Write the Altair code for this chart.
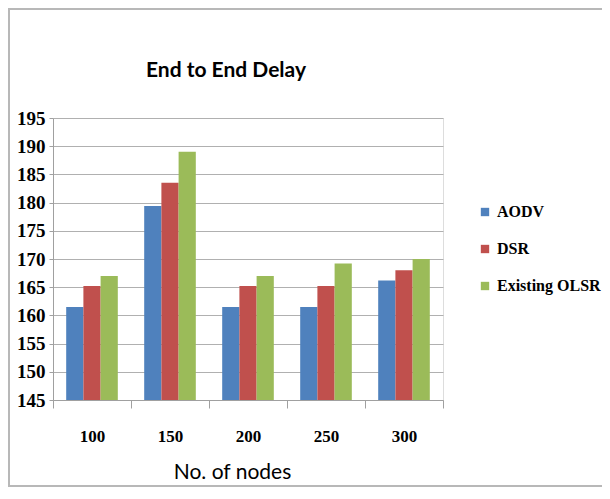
import altair as alt
import pandas as pd

nodes = ["100", "150", "200", "250", "300"]
aodv = [161.5, 179.4, 161.5, 161.5, 166.2]
dsr = [165.2, 183.5, 165.2, 165.2, 168.0]
olsr = [167.0, 189.0, 167.0, 169.2, 170.0]
series = ["AODV", "DSR", "Existing OLSR"]
colors = ["#4F81BD", "#C0504D", "#9BBB59"]
y_min, y_max = 145, 195

rows = []
for name, vals in zip(series, [aodv, dsr, olsr]):
    for n, v in zip(nodes, vals):
        rows.append({"nodes": n, "protocol": name, "delay": v})
df = pd.DataFrame(rows)

W, H = 390, 282
PL, PT, PR, PB = 45, 110, 159, 87

bars = alt.Chart(df).mark_bar().encode(
    x=alt.X("nodes:N", sort=nodes,
            scale=alt.Scale(paddingInner=0, paddingOuter=0),
            axis=alt.Axis(title="No. of nodes", labelAngle=0, tickBand="extent",
                          labelFont="Liberation Serif", labelFontWeight="bold",
                          labelFontSize=17, labelColor="#000000",
                          tickSize=8, tickColor="#a0a0a0", domainColor="#a0a0a0",
                          labelPadding=20, grid=False,
                          titleFont="Lato", titleFontSize=21, titleFontWeight="normal",
                          titleColor="#000000", titleX=179, titleY=72,
                          titleAlign="center", titleBaseline="middle")),
    xOffset=alt.XOffset("protocol:N", sort=series,
                        scale=alt.Scale(paddingInner=0, paddingOuter=0.767)),
    y=alt.Y("delay:Q",
            scale=alt.Scale(domain=[y_min, y_max], zero=False, nice=False),
            axis=alt.Axis(title=None, values=list(range(y_min, y_max + 1, 5)),
                          labelFont="Liberation Serif", labelFontWeight="bold",
                          labelFontSize=19, labelColor="#000000",
                          tickSize=4, tickColor="#a0a0a0", domainColor="#a0a0a0",
                          labelPadding=4, gridColor="#b0b0b0", gridWidth=1)),
    y2=alt.datum(y_min),
    color=alt.Color("protocol:N", sort=series,
                    scale=alt.Scale(domain=series, range=colors),
                    legend=alt.Legend(title=None, orient="none", legendX=424, legendY=86,
                                      symbolType="square", symbolSize=70,
                                      symbolStrokeWidth=0,
                                      labelFont="Liberation Serif", labelFontWeight="bold",
                                      labelFontSize=16, labelColor="#000000",
                                      rowPadding=21, labelOffset=4)),
)

frame = alt.Chart(pd.DataFrame({"a": [0]})).mark_rect(
    fill=None, stroke="#b8b8b8", strokeWidth=2
).encode(
    x=alt.value(-PL + 1), x2=alt.value(W + PR + 10),
    y=alt.value(-PT + 1), y2=alt.value(H + PB - 1),
)

title = alt.Chart(pd.DataFrame({"t": ["End to End Delay"]})).mark_text(
    font="Lato", fontSize=21, fontWeight="bold", color="#000000",
    align="center", baseline="alphabetic"
).encode(x=alt.value(173), y=alt.value(-41), text="t:N")

chart = alt.layer(frame, bars, title).properties(
    width=W, height=H,
    autosize=alt.AutoSizeParams(type="none"),
    padding={"left": PL, "top": PT, "right": PR, "bottom": PB},
).configure_view(stroke=None).configure(background="white")

chart.save("out.html", embed_options={"renderer": "svg", "actions": False})
